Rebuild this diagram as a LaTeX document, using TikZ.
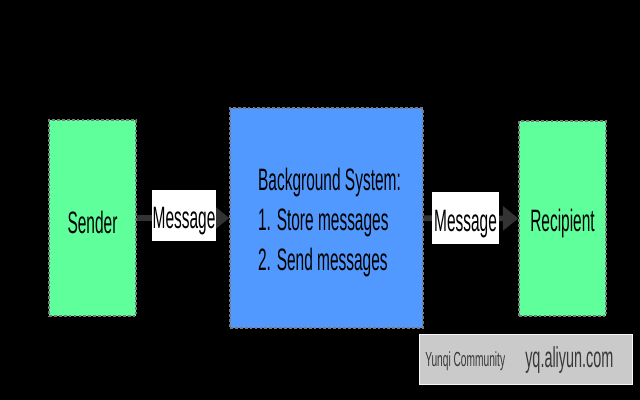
\documentclass[tikz,border=0pt]{standalone}
\usepackage{fontspec}
\setmainfont[FakeStretch=0.5]{Liberation Sans}
\usetikzlibrary{arrows.meta}

\definecolor{partygreen}{HTML}{5FFF9C}
\definecolor{systemblue}{HTML}{5299FF}
\definecolor{edgegray}{HTML}{7A7A7A}
\definecolor{arrowgray}{HTML}{333333}
\definecolor{markgray}{HTML}{CACACA}

\tikzset{
    party/.style={
        rectangle,
        fill=partygreen,
        draw=edgegray,
        line width=1pt,
        dash pattern=on 2pt off 1.5pt,
        minimum width=21.75mm,
        inner sep=0pt,
        text height=7.5mm,
        text depth=0pt,
        font=\fontsize{22}{26}\selectfont
    },
    msgbox/.style={
        rectangle,
        fill=white,
        inner sep=0pt,
        text height=6.5mm,
        text depth=0pt,
        font=\fontsize{22}{26}\selectfont
    },
    msgarrow/.style={
        draw=arrowgray,
        line width=4pt,
        -{Triangle[length=11pt,width=17pt]}
    }
}

\begin{document}
\begin{tikzpicture}[x=0.025cm, y=-0.025cm]

    % fond
    \fill[black] (0,0) rectangle (640,400);

    % boîtes principales
    \node[party, minimum height=49mm]      (sender)    at (92.5,218)  {Sender};
    \node[party, fill=systemblue, minimum width=48.25mm, minimum height=55mm]
                                           (system)    at (326.5,218) {};
    \node[party, minimum height=48.75mm, text height=6.5mm]
                                           (recipient) at (562.5,218.5) {Recipient};
    \node[align=left, inner sep=0pt, font=\fontsize{22}{28.6}\selectfont]
                                           (systemtext) at (329.5,222.5) {Background System:\\1. Store messages\\2. Send messages};

    % flèches
    \draw[msgarrow] (sender) -- (system);
    \draw[msgarrow] (system) -- (recipient);

    % étiquettes des messages
    \node[msgbox, minimum width=16mm, minimum height=12.75mm]  (msgin)  at (184,215.5) {Message};
    \node[msgbox, minimum width=16.75mm, minimum height=13mm]  (msgout) at (465.5,218) {Message};

    % filigrane
    \node[rectangle, fill=markgray, draw=white!85!markgray, line width=0.6pt,
          minimum width=53.25mm, minimum height=12.5mm, inner sep=0pt]
          (mark) at (525.5,359) {};
    \node[anchor=west, inner sep=0pt, text=black!78, font=\fontsize{14.5}{16}\selectfont]
          (markname) at (425,361) {Yunqi Community};
    \node[anchor=west, inner sep=0pt, text=black!78, font=\fontsize{20.5}{22}\selectfont]
          (markurl) at (525,360) {yq.aliyun.com};

\end{tikzpicture}
\end{document}
